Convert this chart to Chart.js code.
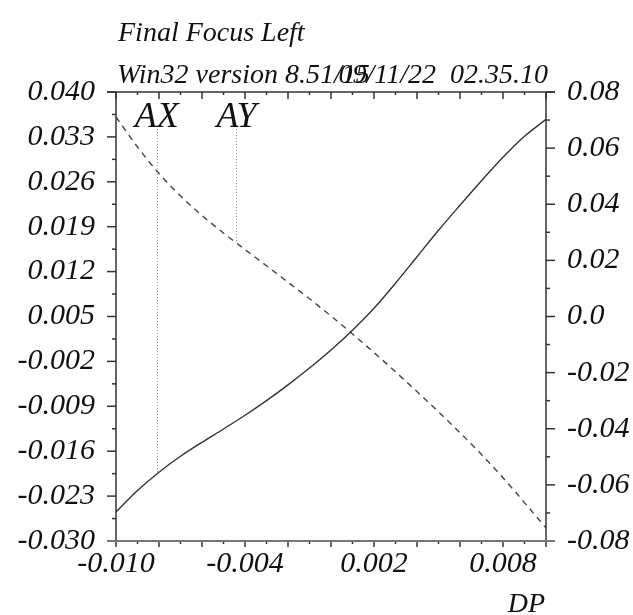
<!DOCTYPE html>
<html><head><meta charset="utf-8">
<script src="https://cdn.jsdelivr.net/npm/chart.js@4/dist/chart.umd.min.js"></script>
<style>html,body{margin:0;padding:0;background:#fff}#wrap{width:633px;height:615px;position:relative}</style>
</head><body><div id="wrap"><canvas id="c" width="633" height="615"></canvas></div>
<script>
// ---- data ----
const titleText = 'Final Focus Left';
const versionText = 'Win32 version 8.51/15';
const dateText = '09/11/22  02.35.10';
const xAxisName = 'DP';
const dp = [-0.010,-0.009,-0.008,-0.007,-0.006,-0.005,-0.004,-0.003,-0.002,-0.001,0.000,0.001,0.002,0.003,0.004,0.005,0.006,0.007,0.008,0.009,0.010];
const axValues = [-0.02548,-0.02213,-0.01927,-0.01679,-0.01461,-0.01254,-0.01039,-0.00811,-0.00566,-0.00304,-0.00022,0.00287,0.00628,0.01018,0.01431,0.01844,0.02234,0.02616,0.02982,0.03309,0.03574];
const ayValues = [0.07109,0.06040,0.05096,0.04294,0.03599,0.02975,0.02387,0.01807,0.01222,0.00631,0.00018,-0.00624,-0.01287,-0.01971,-0.02676,-0.03400,-0.04141,-0.04918,-0.05748,-0.06632,-0.07540];
const seriesNames = ['AX','AY'];
const markerDP = [-0.0081,-0.0044];
const dpTickLabels = ['-0.010','-0.004','0.002','0.008'];
const leftTickLabels = ['0.040','0.033','0.026','0.019','0.012','0.005','-0.002','-0.009','-0.016','-0.023','-0.030'];
const rightTickLabels = ['0.08','0.06','0.04','0.02','0.0','-0.02','-0.04','-0.06','-0.08'];

// ---- helpers ----
const FAM = '"Liberation Serif","Times New Roman",serif';
const tickFont = {family: FAM, size: 30, style: 'italic', lineHeight: 1.2};
function ticksFrom(labels){ return labels.map(s => ({value: parseFloat(s)})).sort((a,b)=>a.value-b.value); }
function labelFor(labels){ return v => { const m = labels.find(s => Math.abs(parseFloat(s)-v) < 1e-9); return m === undefined ? '' : m; }; }
function interp(xs, ys, x){
  for (let i=0;i<xs.length-1;i++){
    if (x>=xs[i] && x<=xs[i+1]){ const t=(x-xs[i])/(xs[i+1]-xs[i]); return ys[i]+t*(ys[i+1]-ys[i]); }
  }
  return ys[ys.length-1];
}

const decor = {
  id: 'decor',
  beforeDatasetsDraw(chart){
    const ctx = chart.ctx, sx = chart.scales.x;
    const axes = [chart.scales.y, chart.scales.y2];
    const vals = [axValues, ayValues];
    ctx.save();
    ctx.strokeStyle = '#9a9a9a'; ctx.lineWidth = 1; ctx.setLineDash([1,2]);
    markerDP.forEach((d,i) => {
      const px = Math.round(sx.getPixelForValue(d)) + 0.5;
      const py = axes[i].getPixelForValue(interp(dp, vals[i], d));
      ctx.beginPath(); ctx.moveTo(px, 129); ctx.lineTo(px, py); ctx.stroke();
    });
    ctx.restore();
  },
  afterDraw(chart){
    const ctx = chart.ctx, a = chart.chartArea;
    const sx = chart.scales.x, sy = chart.scales.y, sy2 = chart.scales.y2;
    ctx.save();
    const line = (x1,y1,x2,y2) => { ctx.beginPath(); ctx.moveTo(x1,y1); ctx.lineTo(x2,y2); ctx.stroke(); };
    ctx.strokeStyle = '#333'; ctx.lineWidth = 1.5;
    line(a.left, a.top, a.left, a.bottom);
    line(a.right, a.top, a.right, a.bottom);
    line(a.left-9, a.top, a.right+9, a.top);
    for (let i=0;i<=20;i++){
      const v = sy.min + i*(sy.max-sy.min)/20; const p = sy.getPixelForValue(v);
      line(a.left - (i%2===0?9:4), p, a.left, p);
    }
    for (let i=0;i<=16;i++){
      const v = sy2.min + i*(sy2.max-sy2.min)/16; const p = sy2.getPixelForValue(v);
      line(a.right, p, a.right + (i%2===0?9:4), p);
    }
    for (let i=0;i<=20;i++){
      const v = sx.min + i*(sx.max-sx.min)/20; const p = sx.getPixelForValue(v);
      line(p, a.top, p, a.top + (i%2===0?7:3));
      line(p, a.bottom, p, a.bottom + (i%2===0?6:3));
    }
    ctx.strokeStyle = '#777'; ctx.lineWidth = 2.2;
    line(a.left-9, a.bottom, a.right+9, a.bottom);
    ctx.fillStyle = '#111';
    ctx.textBaseline = 'alphabetic';
    ctx.font = 'italic 28px ' + FAM;
    ctx.textAlign = 'left';
    ctx.fillText(titleText, 118, 41);
    ctx.fillText(versionText, 117, 83);
    ctx.textAlign = 'right';
    ctx.fillText(dateText, 548, 83);
    ctx.fillText(xAxisName, 545, 612);
    ctx.font = 'italic 36px ' + FAM;
    ctx.textAlign = 'center';
    markerDP.forEach((d,i) => { ctx.fillText(seriesNames[i], sx.getPixelForValue(d), 127); });
    ctx.restore();
  }
};

new Chart(document.getElementById('c'), {
  type: 'line',
  data: {
    datasets: [
      {label: seriesNames[0], data: dp.map((x,i)=>({x, y: axValues[i]})), yAxisID: 'y', borderColor: '#333', borderWidth: 1.4, pointRadius: 0, cubicInterpolationMode: 'monotone', fill: false},
      {label: seriesNames[1], data: dp.map((x,i)=>({x, y: ayValues[i]})), yAxisID: 'y2', borderColor: '#444', borderWidth: 1.4, borderDash: [6,5], pointRadius: 0, cubicInterpolationMode: 'monotone', fill: false}
    ]
  },
  options: {
    responsive: false, animation: false, devicePixelRatio: 1,
    layout: {padding: {top: 92, left: 0, right: 0, bottom: 0}},
    plugins: {legend: {display: false}, tooltip: {enabled: false}, title: {display: false}},
    scales: {
      x: {type: 'linear', position: 'bottom', min: -0.010, max: 0.010,
          afterBuildTicks: s => { s.ticks = ticksFrom(dpTickLabels); },
          afterFit: s => { s.height = 74; },
          ticks: {callback: labelFor(dpTickLabels), font: tickFont, color: '#111', padding: 5, maxRotation: 0, autoSkip: false},
          grid: {display: false, drawTicks: false}, border: {display: false}},
      y: {type: 'linear', position: 'left', min: -0.030, max: 0.040,
          afterBuildTicks: s => { s.ticks = ticksFrom(leftTickLabels); },
          afterFit: s => { s.width = 116; },
          ticks: {callback: labelFor(leftTickLabels), font: tickFont, color: '#111', padding: 21, autoSkip: false},
          grid: {display: false, drawTicks: false}, border: {display: false}},
      y2: {type: 'linear', position: 'right', min: -0.08, max: 0.08,
          afterBuildTicks: s => { s.ticks = ticksFrom(rightTickLabels); },
          afterFit: s => { s.width = 87; },
          ticks: {callback: labelFor(rightTickLabels), font: tickFont, color: '#111', padding: 21, autoSkip: false},
          grid: {display: false, drawTicks: false}, border: {display: false}}
    }
  },
  plugins: [decor]
});
</script></body></html>
